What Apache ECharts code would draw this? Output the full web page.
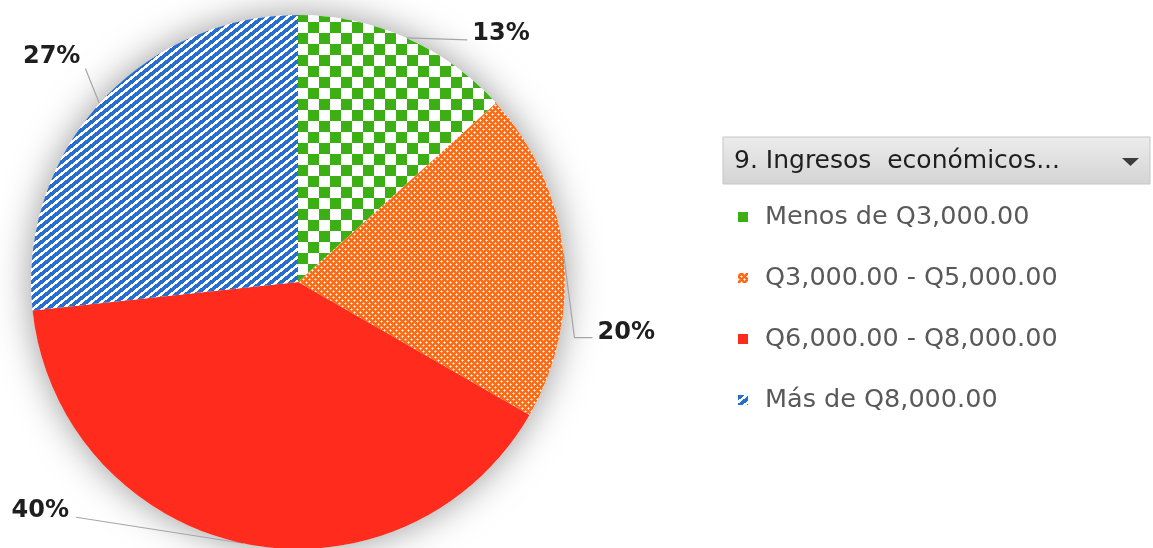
<!DOCTYPE html>
<html><head><meta charset="utf-8">
<script src="https://cdn.jsdelivr.net/npm/echarts@6/dist/echarts.min.js"></script>
<style>html,body{margin:0;padding:0;background:#fff}#c{width:1153px;height:548px}</style>
</head><body><div id="c"></div>
<script>
// ---- data ----
const categories = ['Menos de Q3,000.00', 'Q3,000.00 - Q5,000.00', 'Q6,000.00 - Q8,000.00', 'Más de Q8,000.00'];
const shares = [13.3, 20, 40, 26.7];
const fieldTitle = '9. Ingresos  económicos...';

// ---- pattern tiles ----
function tile(w, h, fn) {
  const c = document.createElement('canvas'); c.width = w; c.height = h;
  const g = c.getContext('2d'); const img = g.createImageData(w, h);
  for (let y = 0; y < h; y++) for (let x = 0; x < w; x++) {
    const col = fn(x, y); const i = (y * w + x) * 4;
    img.data[i] = col[0]; img.data[i + 1] = col[1]; img.data[i + 2] = col[2]; img.data[i + 3] = 255;
  }
  g.putImageData(img, 0, 0); return c;
}
const WHITE = [255, 255, 255];
const GREEN = [59, 175, 20], ORANGE = [255, 106, 20], RED = [255, 43, 28], BLUE = [40, 110, 208];
const LIGHT_OR = [255, 192, 150];
const greenTile = tile(22, 22, (x, y) => ((Math.floor(x / 11) + Math.floor(y / 11)) % 2 ? WHITE : GREEN));
const orangeTile = tile(6, 6, (x, y) => {
  if ((x === 0 && y === 0) || (x === 3 && y === 3)) return WHITE;
  const near = [[1, 0], [0, 1], [5, 0], [0, 5], [4, 3], [3, 4], [2, 3], [3, 2]];
  for (const n of near) if (n[0] === x && n[1] === y) return LIGHT_OR;
  return ORANGE;
});
const blueTile = tile(10, 8, (x, y) => (((x + y * 10 / 8) % 10) < 6 ? BLUE : WHITE));
const fills = [
  { image: greenTile, repeat: 'repeat' },
  { image: orangeTile, repeat: 'repeat' },
  'rgb(' + RED.join(',') + ')',
  { image: blueTile, repeat: 'repeat' }
];

// label placement relative to the slice's edge anchor
const labelPlacement = [
  { dx: 66, dy: -4, align: 'left', line: [[61, 2], [61, 2]] },
  { dx: 34, dy: 79, align: 'left', line: [[11, 84], [29, 84]] },
  { dx: -174, dy: -33, align: 'right', line: [[-167, -26], [-167, -26]] },
  { dx: -19, dy: -47, align: 'right', line: [[-14, -35], [-14, -35]] }
];

const CX = 298, CY = 282, R = 267;
const total = shares.reduce((a, b) => a + b, 0);
function edgePoint(i) {
  let acc = 0; for (let k = 0; k < i; k++) acc += shares[k];
  const a = (acc + shares[i] / 2) / total * Math.PI * 2;
  return [CX + R * Math.sin(a), CY - R * Math.cos(a)];
}

const chart = echarts.init(document.getElementById('c'), null, { renderer: 'canvas' });
chart.setOption({
  animation: false,
  backgroundColor: '#ffffff',
  legend: {
    orient: 'vertical', left: 733, top: 197,
    itemWidth: 10, itemHeight: 10, itemGap: 31, icon: 'rect',
    selectedMode: false,
    data: categories,
    textStyle: { fontFamily: 'DejaVu Sans', fontSize: 25.5, color: '#595959', lineHeight: 30, padding: [0, 0, 0, 12] }
  },
  graphic: [
    { type: 'rect', shape: { x: 723, y: 137, width: 427, height: 47 },
      style: { fill: new echarts.graphic.LinearGradient(0, 0, 0, 1, [{ offset: 0, color: '#ececec' }, { offset: 1, color: '#d4d4d4' }]), stroke: '#c6c6c6', lineWidth: 1 } },
    { type: 'text', x: 734, y: 161, style: { text: fieldTitle, font: '25px "DejaVu Sans"', fill: '#1e1e1e', verticalAlign: 'middle' } },
    { type: 'polygon', shape: { points: [[1122, 158], [1139, 158], [1130.5, 166]] }, style: { fill: '#3c3c3c' } }
  ],
  series: [
    {
      type: 'pie', silent: true, center: [CX, CY], radius: R, z: 1,
      label: { show: false }, labelLine: { show: false },
      data: [{ value: 1, name: '' }],
      itemStyle: { color: '#ffffff', shadowBlur: 36, shadowColor: 'rgba(0,0,0,0.4)' },
      emphasis: { disabled: true }
    },
    {
      type: 'pie', center: [CX, CY], radius: R, z: 2,
      startAngle: 90, clockwise: true, avoidLabelOverlap: false,
      percentPrecision: 0,
      emphasis: { disabled: true },
      data: categories.map((n, i) => ({ name: n, value: shares[i], itemStyle: { color: fills[i] } })),
      label: {
        show: true, position: 'outside', formatter: '{d}%',
        color: '#1e1e1e', fontFamily: 'DejaVu Sans', fontWeight: 'bold', fontSize: 24
      },
      labelLine: { show: true, length: 10, length2: 10, smooth: false, lineStyle: { color: '#a6a6a6', width: 1.2 } },
      labelLayout: function (p) {
        const e = (p.labelLinePoints && p.labelLinePoints[0]) ? p.labelLinePoints[0] : edgePoint(p.dataIndex);
        const L = labelPlacement[p.dataIndex];
        return {
          x: e[0] + L.dx, y: e[1] + L.dy, align: L.align, verticalAlign: 'middle',
          labelLinePoints: [[e[0], e[1]], [e[0] + L.line[0][0], e[1] + L.line[0][1]], [e[0] + L.line[1][0], e[1] + L.line[1][1]]]
        };
      }
    }
  ]
});
</script>
</body></html>
